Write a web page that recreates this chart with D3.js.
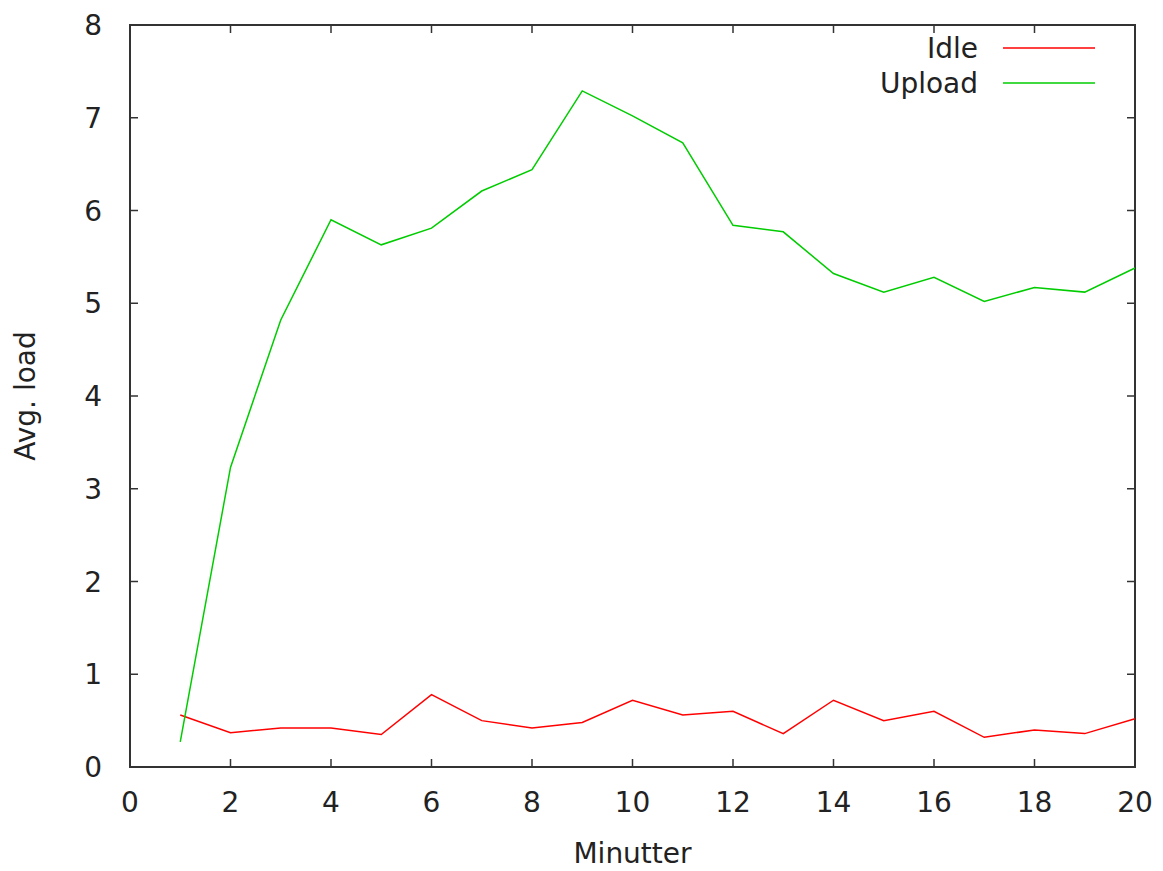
<!DOCTYPE html>
<html>
<head>
<meta charset="utf-8">
<script src="https://cdn.jsdelivr.net/npm/d3@7"></script>
<style>
  body { margin: 0; background: #fff; }
  svg { display: block; font-family: "DejaVu Sans", sans-serif; }
</style>
</head>
<body>
<svg id="chart" width="1163" height="871"></svg>
<script>
"use strict";

var minutes = d3.range(1, 21);
var idleLoad = [0.56, 0.37, 0.42, 0.42, 0.35, 0.78, 0.50, 0.42, 0.48, 0.72,
                0.56, 0.60, 0.36, 0.72, 0.50, 0.60, 0.32, 0.40, 0.36, 0.52];
var uploadLoad = [0.27, 3.23, 4.82, 5.90, 5.63, 5.81, 6.21, 6.44, 7.29, 7.02,
                  6.73, 5.84, 5.77, 5.32, 5.12, 5.28, 5.02, 5.17, 5.12, 5.38];
var xTicks = [0, 2, 4, 6, 8, 10, 12, 14, 16, 18, 20];
var yTicks = [0, 1, 2, 3, 4, 5, 6, 7, 8];

var series = [
  { name: "Idle", values: idleLoad, color: "#ff0000" },
  { name: "Upload", values: uploadLoad, color: "#00cc00" }
];

var margin = { top: 25, right: 28, bottom: 104, left: 130 };
var svg = d3.select("#chart");
var width = +svg.attr("width") - margin.left - margin.right;
var height = +svg.attr("height") - margin.top - margin.bottom;
var TICK = 8;
var AXIS_COLOR = "#333";
var FONT_SIZE = 28;

var x = d3.scaleLinear().domain([0, 20]).range([0, width]);
var y = d3.scaleLinear().domain([0, 8]).range([height, 0]);

var g = svg.append("g").attr("transform", "translate(" + margin.left + "," + margin.top + ")");

// ticks point inward on all four sides, gnuplot style
var tickGroup = g.append("g").attr("stroke", AXIS_COLOR).attr("stroke-width", 1.5);
xTicks.slice(1, -1).forEach(function (t) {
  tickGroup.append("line").attr("x1", x(t)).attr("x2", x(t)).attr("y1", height).attr("y2", height - TICK);
  tickGroup.append("line").attr("x1", x(t)).attr("x2", x(t)).attr("y1", 0).attr("y2", TICK);
});
yTicks.slice(1, -1).forEach(function (t) {
  tickGroup.append("line").attr("x1", 0).attr("x2", TICK).attr("y1", y(t)).attr("y2", y(t));
  tickGroup.append("line").attr("x1", width).attr("x2", width - TICK).attr("y1", y(t)).attr("y2", y(t));
});

g.append("rect")
  .attr("width", width)
  .attr("height", height)
  .attr("fill", "none")
  .attr("stroke", AXIS_COLOR)
  .attr("stroke-width", 2);

g.selectAll("text.xtick")
  .data(xTicks)
  .enter()
  .append("text")
  .attr("class", "xtick")
  .attr("x", function (d) { return x(d); })
  .attr("y", height + 45)
  .attr("text-anchor", "middle")
  .attr("font-size", FONT_SIZE)
  .attr("fill", "#222")
  .text(function (d) { return d; });

g.selectAll("text.ytick")
  .data(yTicks)
  .enter()
  .append("text")
  .attr("class", "ytick")
  .attr("x", -28)
  .attr("y", function (d) { return y(d); })
  .attr("dy", "0.36em")
  .attr("text-anchor", "end")
  .attr("font-size", FONT_SIZE)
  .attr("fill", "#222")
  .text(function (d) { return d; });

var line = d3.line()
  .x(function (d, i) { return x(minutes[i]); })
  .y(function (d) { return y(d); });

g.selectAll("path.series")
  .data(series)
  .enter()
  .append("path")
  .attr("class", "series")
  .attr("d", function (s) { return line(s.values); })
  .attr("fill", "none")
  .attr("stroke", function (s) { return s.color; })
  .attr("stroke-width", 1.5);

// legend, top right inside the frame
var legend = g.selectAll("g.legend")
  .data(series)
  .enter()
  .append("g")
  .attr("class", "legend")
  .attr("transform", function (d, i) { return "translate(0," + (23 + i * 35) + ")"; });

legend.append("text")
  .attr("x", 848)
  .attr("dy", "0.36em")
  .attr("text-anchor", "end")
  .attr("font-size", FONT_SIZE)
  .attr("fill", "#222")
  .text(function (d) { return d.name; });

legend.append("line")
  .attr("x1", 873)
  .attr("x2", 965)
  .attr("stroke", function (d) { return d.color; })
  .attr("stroke-width", 1.5);

svg.append("text")
  .attr("x", margin.left + width / 2)
  .attr("y", 863)
  .attr("text-anchor", "middle")
  .attr("font-size", FONT_SIZE)
  .attr("fill", "#222")
  .text("Minutter");

svg.append("text")
  .attr("transform", "translate(35," + (margin.top + height / 2) + ") rotate(-90)")
  .attr("text-anchor", "middle")
  .attr("font-size", FONT_SIZE)
  .attr("fill", "#222")
  .text("Avg. load");
</script>
</body>
</html>
